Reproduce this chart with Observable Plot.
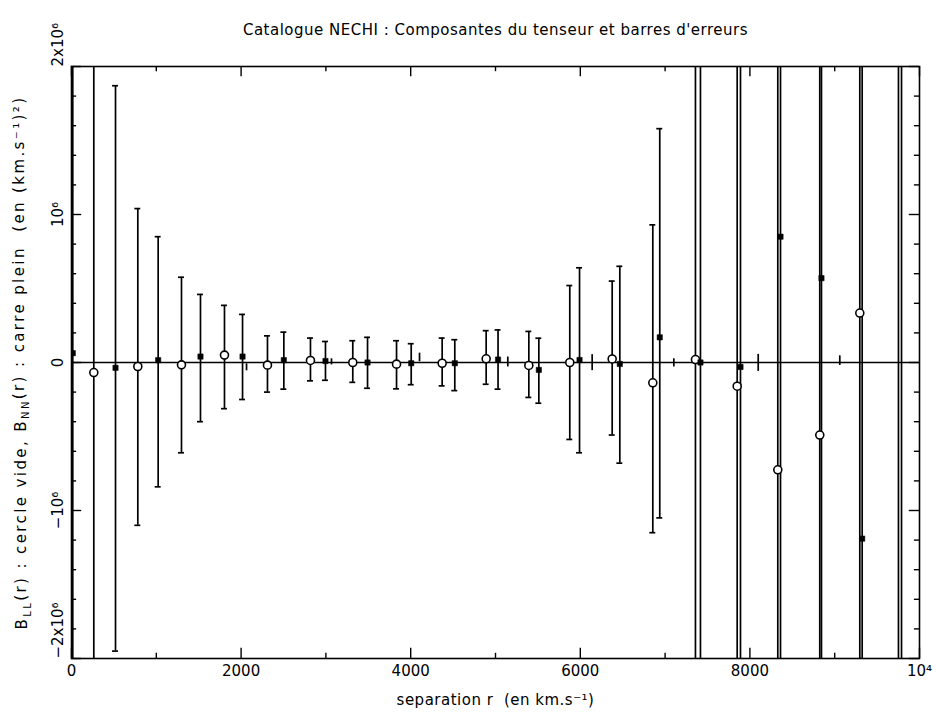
<!DOCTYPE html>
<html>
<head>
<meta charset="utf-8">
<script src="https://cdn.jsdelivr.net/npm/d3@7"></script>
<script src="https://cdn.jsdelivr.net/npm/@observablehq/plot@0.6"></script>
<style>
  html, body { margin: 0; padding: 0; background: #fff; }
  svg text { white-space: pre; }
</style>
</head>
<body>
<div id="chart"></div>
<script>
// ---- Data (values in (km/s)^2, r in km/s) ----
// B_LL(r) : open circles
const llR  = [263, 782, 1297, 1804, 2311, 2818, 3317, 3833, 4371, 4890, 5393, 5876, 6376, 6855, 7358, 7850, 8329, 8824, 9296, 9752];
const llV  = [-0.068e6, -0.027e6, -0.016e6, 0.05e6, -0.018e6, 0.014e6, 0.0, -0.011e6, -0.005e6, 0.025e6, -0.02e6, 0.0, 0.024e6, -0.137e6, 0.02e6, -0.16e6, -0.725e6, -0.49e6, 0.334e6, 2.4e6];
const llLo = [-3e6, -1.10e6, -0.61e6, -0.312e6, -0.20e6, -0.124e6, -0.134e6, -0.178e6, -0.158e6, -0.147e6, -0.236e6, -0.52e6, -0.49e6, -1.15e6, -3e6, -3e6, -3e6, -3e6, -3e6, -3e6];
const llHi = [3e6, 1.04e6, 0.576e6, 0.386e6, 0.18e6, 0.165e6, 0.147e6, 0.147e6, 0.165e6, 0.215e6, 0.21e6, 0.52e6, 0.55e6, 0.93e6, 3e6, 3e6, 3e6, 3e6, 3e6, 3e6];

// B_NN(r) : filled squares
const nnR  = [15, 519, 1022, 1521, 2017, 2504, 2995, 3491, 4006, 4520, 5030, 5511, 5991, 6466, 6937, 7417, 7889, 8361, 8844, 9324, 9788];
const nnV  = [0.063e6, -0.036e6, 0.016e6, 0.04e6, 0.04e6, 0.016e6, 0.01e6, 0.0, -0.005e6, -0.005e6, 0.02e6, -0.05e6, 0.017e6, -0.01e6, 0.17e6, 0.0, -0.03e6, 0.85e6, 0.57e6, -1.19e6, -2.5e6];
const nnLo = [-3e6, -1.95e6, -0.84e6, -0.40e6, -0.25e6, -0.18e6, -0.12e6, -0.174e6, -0.15e6, -0.19e6, -0.18e6, -0.275e6, -0.61e6, -0.68e6, -1.05e6, -3e6, -3e6, -3e6, -3e6, -3e6, -3e6];
const nnHi = [3e6, 1.87e6, 0.85e6, 0.46e6, 0.325e6, 0.205e6, 0.142e6, 0.17e6, 0.127e6, 0.154e6, 0.22e6, 0.164e6, 0.64e6, 0.65e6, 1.58e6, 3e6, 3e6, 3e6, 3e6, 3e6, 3e6];

// small bars without marker
const smR  = [2064, 3066, 4104, 5145, 6140, 7103, 8098, 9060];
const smLo = [-0.056e6, -0.016e6, 0.005e6, -0.03e6, -0.055e6, -0.03e6, -0.06e6, -0.02e6];
const smHi = [-0.009e6, 0.025e6, 0.063e6, 0.037e6, 0.053e6, 0.025e6, 0.055e6, 0.045e6];

// axes
const xDomain = [0, 10000];
const yDomain = [-2e6, 2e6];
const xMajor = [0, 2000, 4000, 6000, 8000, 10000];
const xMajorLabels = ["0", "2000", "4000", "6000", "8000", "10⁴"];
const xMinor = [1000, 3000, 5000, 7000, 9000];
const yMajor = [-2e6, -1e6, 0, 1e6, 2e6];
const yMinor = [-1.8e6, -1.6e6, -1.4e6, -1.2e6, -0.8e6, -0.6e6, -0.4e6, -0.2e6, 0.2e6, 0.4e6, 0.6e6, 0.8e6, 1.2e6, 1.4e6, 1.6e6, 1.8e6];
const yEndTicks = [-2e6, 2e6];
const yEndLabels = ["−2x10⁶", "2x10⁶"];
const yMidTicks = [-1e6, 0, 1e6];
const yMidLabels = ["−10⁶", "0", "10⁶"];

const title = "Catalogue NECHI : Composantes du tenseur et barres d'erreurs";
const xLabel = "separation r  (en km.s⁻¹)";
const yLabelParts = [["B", false], ["LL", true], ["(r) : cercle vide, B", false], ["NN", true], ["(r) : carre plein  (en (km.s⁻¹)²)", false]];
const yLabel = yLabelParts.map(p => p[0]).join("");

// ---- tables ----
const ll = llR.map((r, i) => ({r, v: llV[i], lo: llLo[i], hi: llHi[i]}));
const nn = nnR.map((r, i) => ({r, v: nnV[i], lo: nnLo[i], hi: nnHi[i]}));
const sm = smR.map((r, i) => ({r, lo: smLo[i], hi: smHi[i]}));

const capHalf = 35;     // cap half-width in x units
const tickMajY = 0.07e6, tickMinY = 0.035e6;  // x-axis tick lengths (y units)
const tickMajX = 120, tickMinX = 60;          // y-axis tick lengths (x units)
const sw = 1.7;

const errMarks = (data) => [
  Plot.ruleX(data, {x: "r", y1: "lo", y2: "hi", stroke: "black", strokeWidth: sw, clip: true}),
  Plot.ruleY(data, {y: "hi", x1: d => d.r - capHalf, x2: d => d.r + capHalf, stroke: "black", strokeWidth: sw, clip: true}),
  Plot.ruleY(data, {y: "lo", x1: d => d.r - capHalf, x2: d => d.r + capHalf, stroke: "black", strokeWidth: sw, clip: true})
];

const chart = Plot.plot({
  width: 936,
  height: 722,
  marginLeft: 71,
  marginRight: 17,
  marginTop: 66,
  marginBottom: 64,
  x: {domain: xDomain, axis: null},
  y: {domain: yDomain, axis: null},
  style: {fontFamily: "DejaVu Sans, sans-serif", fontSize: "14px", background: "white", color: "black"},
  marks: [
    Plot.ruleY([0], {stroke: "black", strokeWidth: 1.6}),
    ...errMarks(ll),
    ...errMarks(nn),
    Plot.ruleX(sm, {x: "r", y1: "lo", y2: "hi", stroke: "black", strokeWidth: sw}),
    Plot.dot(ll, {x: "r", y: "v", r: 4, stroke: "black", fill: "white", strokeWidth: 1.6, clip: true}),
    Plot.dot(nn, {x: "r", y: "v", symbol: "square", r: 3, fill: "black", stroke: "black", strokeWidth: 0.5, clip: true}),
    // frame
    Plot.frame({stroke: "black", strokeWidth: 1.6}),
    // x ticks bottom/top
    Plot.ruleX(xMajor, {x: d => d, y1: yDomain[0], y2: yDomain[0] + tickMajY, stroke: "black", strokeWidth: 1.4}),
    Plot.ruleX(xMinor, {x: d => d, y1: yDomain[0], y2: yDomain[0] + tickMinY, stroke: "black", strokeWidth: 1.4}),
    Plot.ruleX(xMajor, {x: d => d, y1: yDomain[1], y2: yDomain[1] - tickMajY, stroke: "black", strokeWidth: 1.4}),
    Plot.ruleX(xMinor, {x: d => d, y1: yDomain[1], y2: yDomain[1] - tickMinY, stroke: "black", strokeWidth: 1.4}),
    // y ticks left/right
    Plot.ruleY(yMajor, {y: d => d, x1: xDomain[0], x2: xDomain[0] + tickMajX, stroke: "black", strokeWidth: 1.4}),
    Plot.ruleY(yMinor, {y: d => d, x1: xDomain[0], x2: xDomain[0] + tickMinX, stroke: "black", strokeWidth: 1.4}),
    Plot.ruleY(yMajor, {y: d => d, x1: xDomain[1], x2: xDomain[1] - tickMajX, stroke: "black", strokeWidth: 1.4}),
    Plot.ruleY(yMinor, {y: d => d, x1: xDomain[1], x2: xDomain[1] - tickMinX, stroke: "black", strokeWidth: 1.4}),
    // x tick labels
    Plot.text(xMajor, {x: d => d, y: yDomain[0], text: (d, i) => xMajorLabels[i], dy: 7, lineAnchor: "top", fontSize: 15, fill: "black"}),
    // y tick labels (rotated)
    Plot.text(yEndTicks, {x: xDomain[0], y: d => d, text: (d, i) => yEndLabels[i], rotate: -90, dx: -9, textAnchor: "start", lineAnchor: "bottom", fontSize: 15, fill: "black"}),
    Plot.text(yMidTicks, {x: xDomain[0], y: d => d, text: (d, i) => yMidLabels[i], rotate: -90, dx: -9, textAnchor: "middle", lineAnchor: "bottom", fontSize: 15, fill: "black"}),
    // title and axis labels
    Plot.text([title], {frameAnchor: "top", dy: -42, text: d => d, textAnchor: "middle", fontSize: 15, fill: "black"}),
    Plot.text([xLabel], {frameAnchor: "bottom", dy: 46, text: d => d, textAnchor: "middle", fontSize: 15, fill: "black"}),
    Plot.text([yLabel], {frameAnchor: "left", dx: -49, rotate: -90, text: d => d, textAnchor: "middle", fontSize: 15, fill: "black"})
  ]
});

document.getElementById("chart").appendChild(chart);

const svg = d3.select(chart);
// letter spacing to mimic the wide plotter font
svg.selectAll("text").filter(function() { return this.textContent === title || this.textContent === xLabel; })
  .attr("letter-spacing", "0.5px");

// subscripts in the y label
svg.selectAll("text").filter(function() { return this.textContent === yLabel; })
  .attr("letter-spacing", "2.4px")
  .each(function() {
    const t = d3.select(this);
    t.text(null);
    yLabelParts.forEach(([s, sub], i) => {
      const ts = t.append("tspan").text(s);
      if (sub) ts.attr("font-size", 10).attr("dy", "0.35em");
      else if (i > 0) ts.attr("dy", "-0.35em");
    });
  });
</script>
</body>
</html>
